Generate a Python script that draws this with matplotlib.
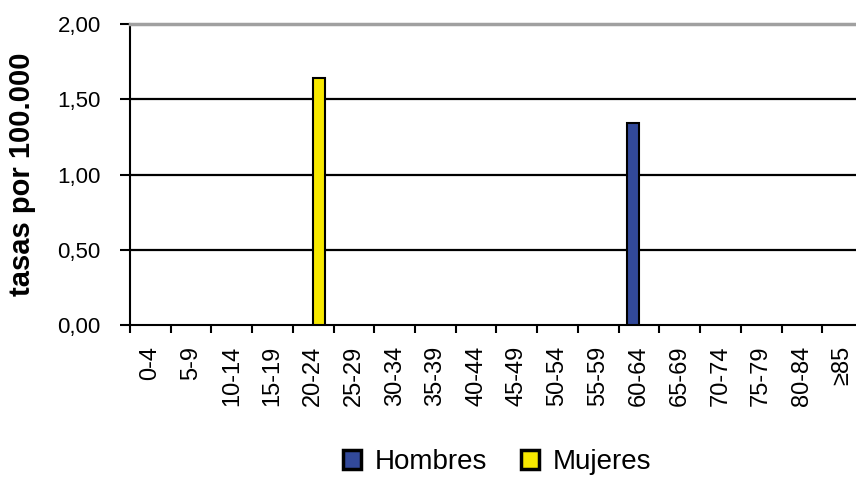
import numpy as np
import matplotlib
matplotlib.use("Agg")
import matplotlib.pyplot as plt
from matplotlib.ticker import FuncFormatter

plt.rcParams['font.family'] = ['Liberation Sans', 'DejaVu Sans']

grupos = ['0-4', '5-9', '10-14', '15-19', '20-24', '25-29', '30-34', '35-39',
          '40-44', '45-49', '50-54', '55-59', '60-64', '65-69', '70-74',
          '75-79', '80-84', '≥85']
hombres = [0, 0, 0, 0, 0, 0, 0, 0, 0, 0, 0, 0, 1.34, 0, 0, 0, 0, 0]
mujeres = [0, 0, 0, 0, 1.64, 0, 0, 0, 0, 0, 0, 0, 0, 0, 0, 0, 0, 0]

fig = plt.figure(figsize=(8.56, 4.78), dpi=100)
ax = fig.add_axes([130/856, 1-325/478, 733/856, 301/478])

x = np.arange(len(grupos))
w = 0.3
h = [v if v > 0 else np.nan for v in hombres]
m = [v if v > 0 else np.nan for v in mujeres]
ax.bar(x - w/2, h, w, color='#32499A', edgecolor='black', linewidth=1.5,
       label='Hombres', zorder=3)
ax.bar(x + w/2, m, w, color='#F7E800', edgecolor='black', linewidth=1.5,
       label='Mujeres', zorder=3)

ax.set_xlim(-0.5, len(grupos) - 0.5)
ax.set_ylim(0, 2)
ax.set_yticks([0, 0.5, 1.0, 1.5, 2.0])
ax.yaxis.set_major_formatter(FuncFormatter(lambda v, p: f"{v:.2f}".replace('.', ',')))
for yv in [0.5, 1.0, 1.5]:
    ax.axhline(yv, color='black', linewidth=1.6, zorder=1)

ax.set_xticks(np.arange(len(grupos) + 1) - 0.5)
ax.set_xticklabels([])
ax.set_xticks(x, minor=True)
ax.set_xticklabels(grupos, minor=True, rotation=90, fontsize=17)
ax.tick_params(axis='x', which='major', direction='out', length=6, width=1.5)
ax.tick_params(axis='x', which='minor', length=0, pad=15)
ax.tick_params(axis='y', direction='out', length=7, width=1.5, labelsize=16, pad=14)

ax.spines['right'].set_visible(False)
ax.spines['top'].set_color('#A0A0A0')
ax.spines['top'].set_linewidth(2.5)
ax.spines['left'].set_linewidth(1.5)
ax.spines['bottom'].set_linewidth(1.5)

ax.set_ylabel('tasas por 100.000', fontsize=21, fontweight='bold')
ax.yaxis.set_label_coords(-94/733, 0.5)

leg = fig.legend(loc='center', bbox_to_anchor=(497/856, 1-462/478), ncol=2,
                 frameon=False, fontsize=20, handlelength=0.65, handleheight=0.7,
                 handletextpad=0.5, columnspacing=1.2)
for p in leg.get_patches():
    p.set_linewidth(2.5)

fig.savefig('out.png', dpi=100)
